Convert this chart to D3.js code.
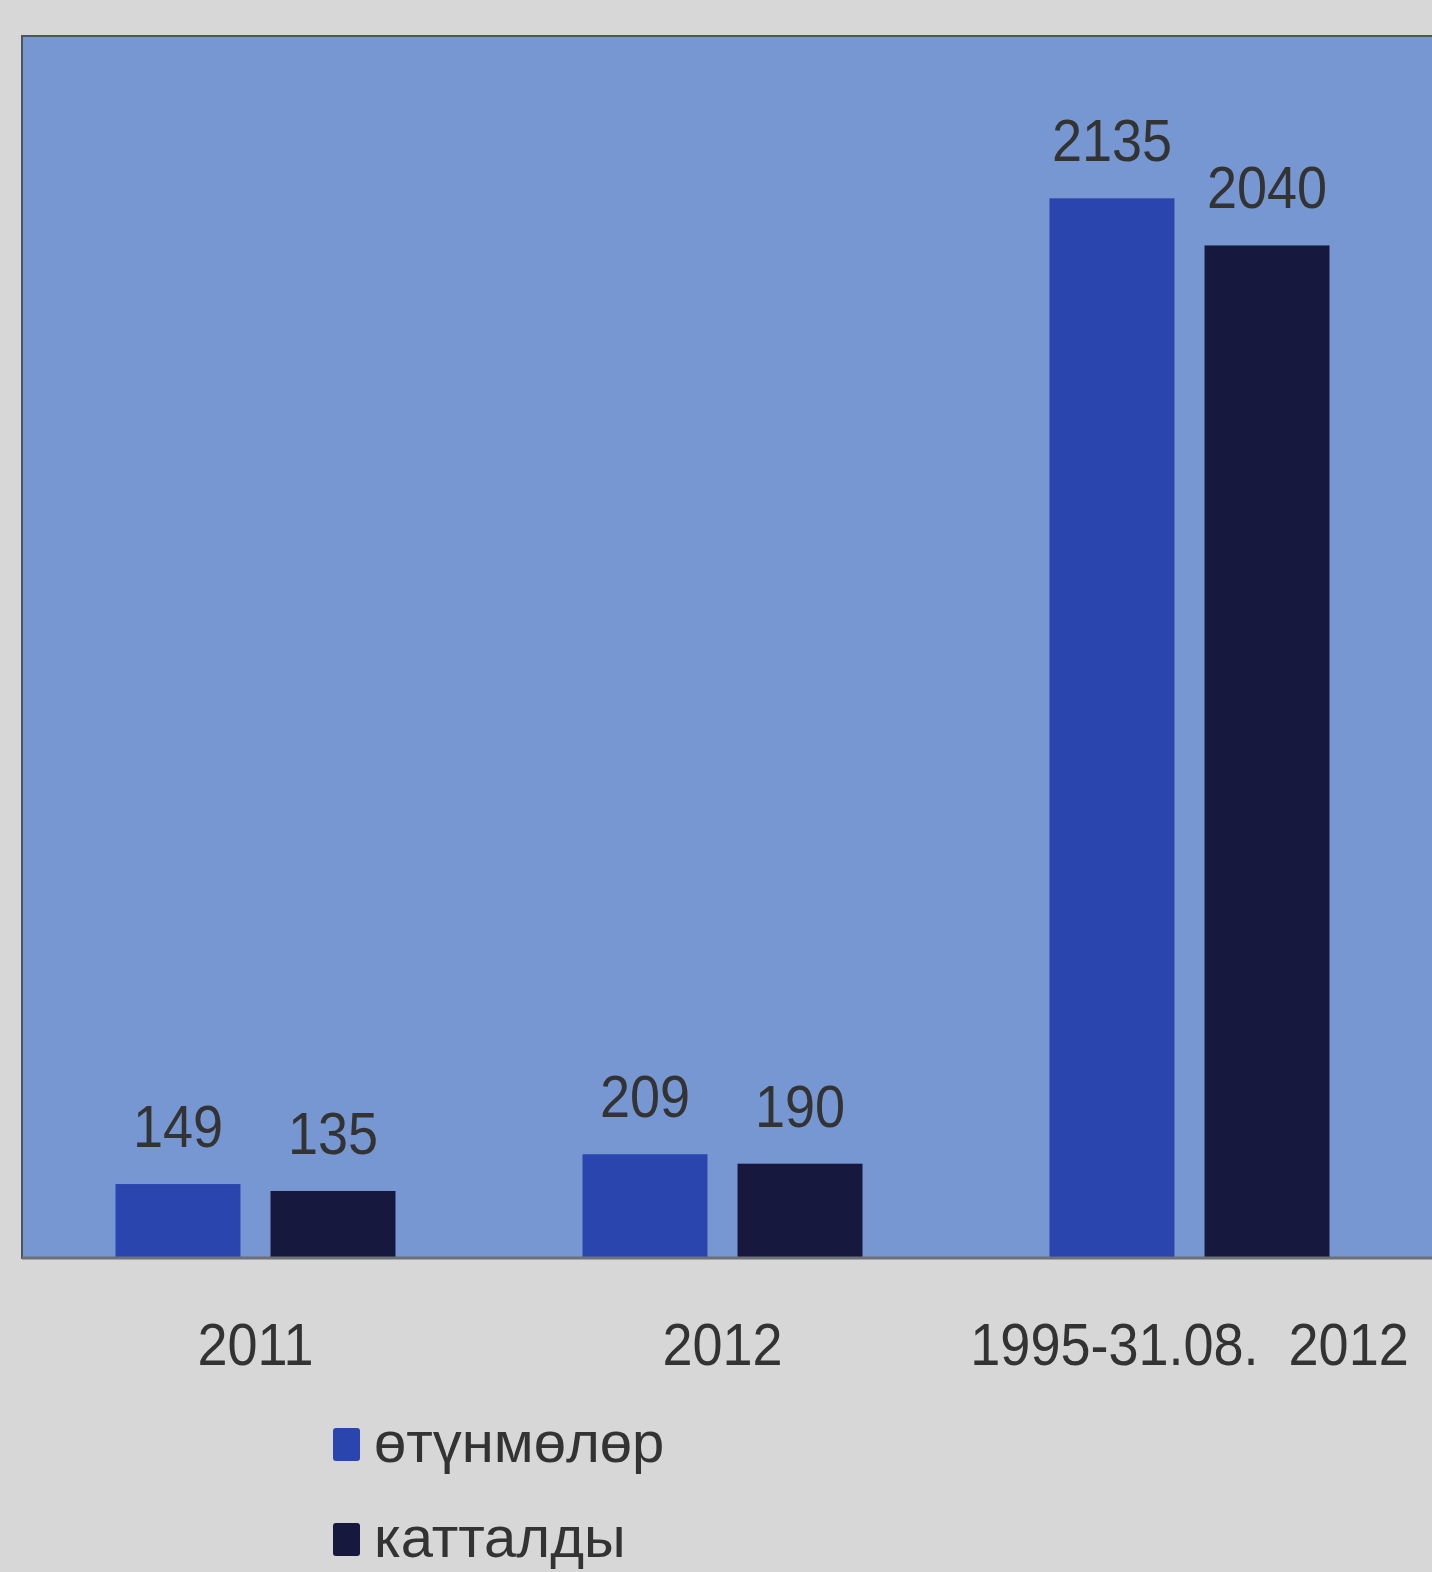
<!DOCTYPE html>
<html>
<head>
<meta charset="utf-8">
<script src="https://cdn.jsdelivr.net/npm/d3@7"></script>
<style>
  html, body { margin: 0; padding: 0; background: #d6d7d6; }
  svg { display: block; }
  .num { font-family: "Liberation Sans", Arial, sans-serif; fill: #333; }
  .leg { font-family: "Liberation Sans", Arial, sans-serif; fill: #333; }
</style>
</head>
<body>
<svg id="chart" width="1432" height="1572"></svg>
<script>
const categories = ['2011', '2012', '1995-31.08.\u00a0 2012'];
const seriesNames = ['өтүнмөлөр', 'катталды'];
const applications = [149, 209, 2135];
const registered = [135, 190, 2040];
const colors = ['#2b45ae', '#17183e'];

const data = categories.map((c, i) => ({ cat: c, values: [applications[i], registered[i]] }));

const svg = d3.select('#chart');
const plot = { left: 22, top: 36, right: 1440, bottom: 1258 };

// plot background
svg.append('rect')
  .attr('x', plot.left).attr('y', plot.top)
  .attr('width', plot.right - plot.left).attr('height', plot.bottom - plot.top)
  .attr('fill', '#7797d2')
  .attr('stroke', '#50535a').attr('stroke-width', 2);

const x0 = d3.scaleBand().domain(categories).range([plot.left, plot.left + 467 * 3]).padding(0);
const x1 = d3.scaleBand().domain([0, 1]).range([0, 280]).paddingInner(0.194).paddingOuter(0);
const y = d3.scaleLinear().domain([0, 2462]).range([plot.bottom, plot.top]);

const groups = svg.selectAll('g.grp').data(data).join('g')
  .attr('class', 'grp')
  .attr('transform', d => `translate(${x0(d.cat) + (x0.bandwidth() - 280) / 2},0)`);

groups.selectAll('rect').data(d => d.values).join('rect')
  .attr('x', (v, i) => x1(i))
  .attr('y', v => y(v))
  .attr('width', x1.bandwidth())
  .attr('height', v => y(0) - y(v))
  .attr('fill', (v, i) => colors[i]);

groups.selectAll('text').data(d => d.values).join('text')
  .attr('class', 'num')
  .attr('x', (v, i) => x1(i) + x1.bandwidth() / 2)
  .attr('y', v => y(v) - 37)
  .attr('text-anchor', 'middle')
  .style('font-size', '60px')
  .text(v => v);

// baseline
svg.append('line')
  .attr('x1', plot.left).attr('x2', plot.right)
  .attr('y1', plot.bottom).attr('y2', plot.bottom)
  .attr('stroke', '#6d7078').attr('stroke-width', 3);

// category axis
const xAxis = d3.axisBottom(x0).tickSize(0).tickPadding(0);
const ax = svg.append('g').attr('transform', `translate(0,${plot.bottom})`).call(xAxis);
ax.select('.domain').remove();
ax.selectAll('text')
  .attr('class', 'num')
  .attr('dy', 0).attr('y', 107)
  .style('font-size', '60px')
  .attr('fill', null);

// the printed digits are narrower than Liberation Sans: squeeze them
svg.selectAll('text.num').each(function () {
  const w = this.getComputedTextLength();
  d3.select(this).attr('textLength', w * 0.9).attr('lengthAdjust', 'spacingAndGlyphs');
});

// legend
const legend = svg.append('g').attr('transform', 'translate(333,1428)');
const li = legend.selectAll('g').data(seriesNames).join('g')
  .attr('transform', (d, i) => `translate(0,${i * 95})`);
li.append('rect').attr('width', 27).attr('height', 33).attr('rx', 3).attr('fill', (d, i) => colors[i]);
li.append('text').attr('class', 'leg').attr('x', 41).attr('y', 34)
  .style('font-size', '58px').text(d => d);
</script>
</body>
</html>
